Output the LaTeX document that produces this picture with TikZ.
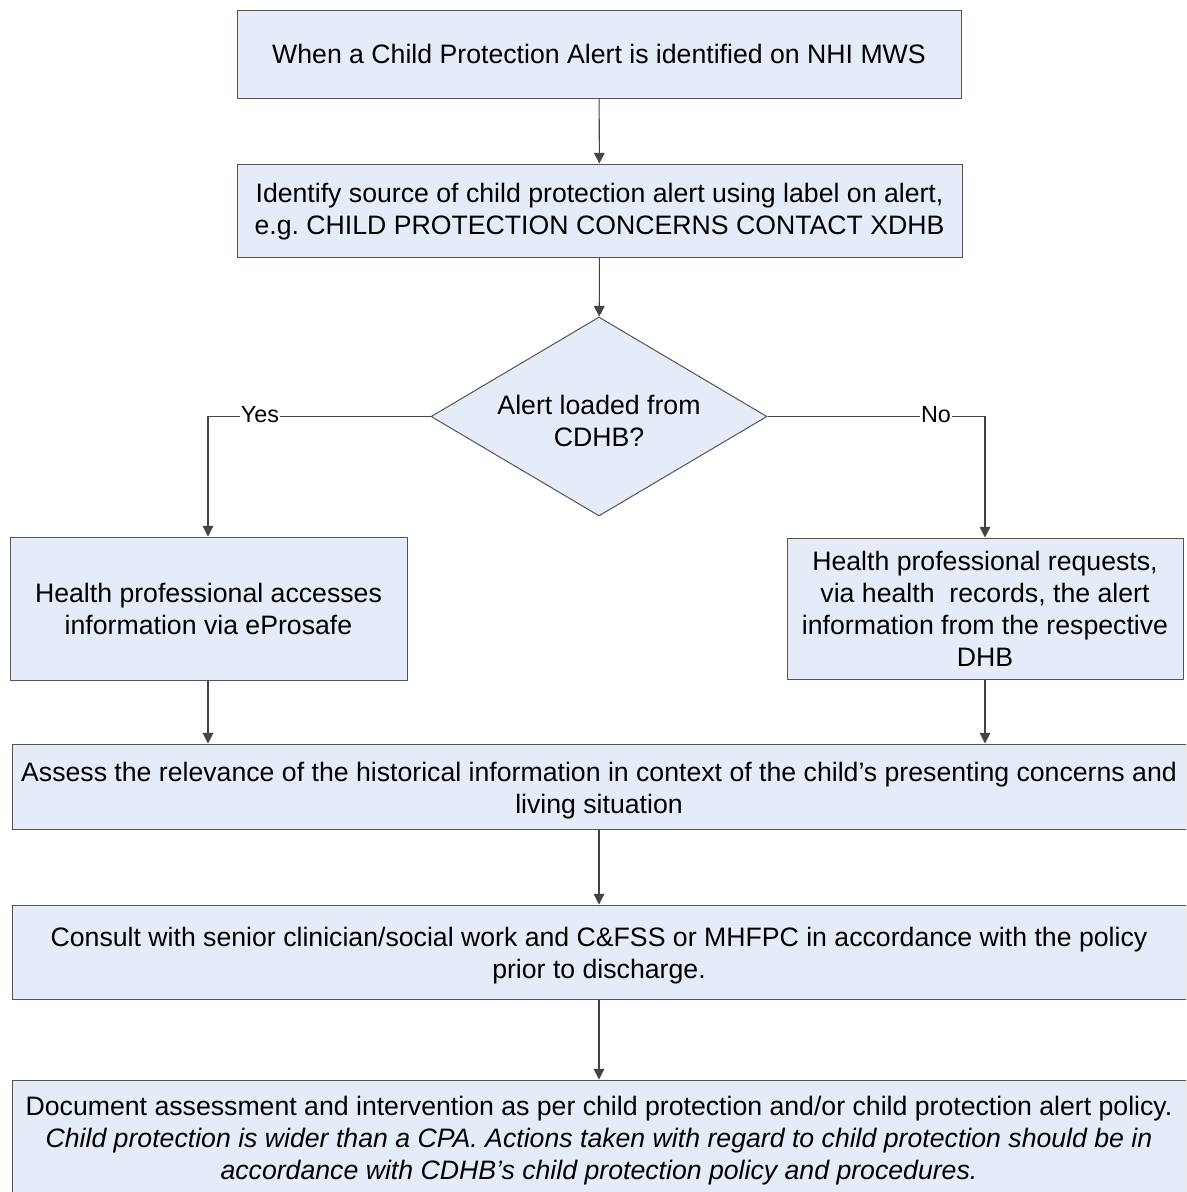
\documentclass[tikz,border=0pt]{standalone}
\usepackage{fontspec}
\setmainfont{Liberation Sans}
\usetikzlibrary{shapes.geometric,arrows.meta}
\definecolor{boxfill}{HTML}{E6ECF7}
\definecolor{boxline}{HTML}{555555}
\definecolor{conn}{HTML}{444444}
\frenchspacing
\tikzset{
  flowbox/.style={draw=boxline, fill=boxfill, line width=0.75pt, align=center, inner sep=0pt,
    font=\fontsize{20}{24}\selectfont},
  boxtext/.style={align=center, inner sep=0pt, font=\fontsize{20}{24}\selectfont},
  decbox/.style={diamond, draw=boxline, fill=boxfill, line width=0.75pt, inner sep=0pt,
    minimum width=252pt, minimum height=149.25pt},
  conn/.style={draw=conn, line width=0.8pt, -{Triangle[length=8pt,width=8pt]}},
  lbl/.style={fill=white, inner sep=0.5pt, font=\fontsize{17.5}{20}\selectfont}
}
\begin{document}
\begin{tikzpicture}[x=0.75pt,y=-0.75pt]
\useasboundingbox (0,0) rectangle (1186,1192);
\clip (0,0) rectangle (1186,1192);
\fill[white] (0,0) rectangle (1186,1192);
\node[flowbox, minimum width=543pt, minimum height=66pt] (b1) at (599,54)
  {When a Child Protection Alert is identified on NHI MWS};
\node[flowbox, minimum width=543.75pt, minimum height=69.75pt] (b2) at (599.5,210.5) {};
\node[boxtext] (b2t) at (599.5,211.5)
  {Identify source of child protection alert using label on alert,\\e.g. CHILD PROTECTION CONCERNS CONTACT XDHB};
\node[decbox] (d) at (599,416.5) {};
\node[boxtext] (dt) at (599,421) {Alert loaded from\\CDHB?};
\node[flowbox, minimum width=297.75pt, minimum height=107.25pt] (bl) at (208.5,608.5)
  {Health professional accesses\\information via eProsafe};
\node[flowbox, minimum width=297pt, minimum height=105.75pt] (br) at (985,608.5)
  {Health professional requests,\\via health\ \ records, the alert\\information from the respective\\DHB};
\node[flowbox, minimum width=880.5pt, minimum height=63.75pt] (b6) at (599,786.5) {};
\node[boxtext] (b6t) at (599,791)
  {Assess the relevance of the historical information in context of the child’s presenting concerns and\\living situation};
\node[flowbox, minimum width=880.5pt, minimum height=70.5pt] (b7) at (599,952) {};
\node[boxtext] (b7t) at (599,956)
  {Consult with senior clinician/social work and C\&FSS or MHFPC in accordance with the policy\\prior to discharge.};
\node[flowbox, minimum width=880.5pt, minimum height=87pt] (b8) at (599,1138) {};
\node[boxtext] (b8t) at (599,1141)
  {Document assessment and intervention as per child protection and/or child protection alert policy.\\
   \itshape Child protection is wider than a CPA. Actions taken with regard to child protection should be in\\
   \itshape accordance with CDHB’s child protection policy and procedures.};
\coordinate (yl) at (208,416.5);
\coordinate (nr) at (985,416.5);
\draw[conn] (b1) -- (b2);
\draw[conn] (b2) -- (d);
\draw[conn] (d.west) -- (yl) -- (bl.north -| yl);
\draw[conn] (d.east) -- (nr) -- (br.north -| nr);
\draw[conn] (bl.south -| yl) -- (b6.north -| yl);
\draw[conn] (br.south -| nr) -- (b6.north -| nr);
\draw[conn] (b6) -- (b7);
\draw[conn] (b7) -- (b8);
\node[lbl] (yes) at (260,415) {Yes};
\node[lbl] (no) at (936,415) {No};
\end{tikzpicture}
\end{document}
